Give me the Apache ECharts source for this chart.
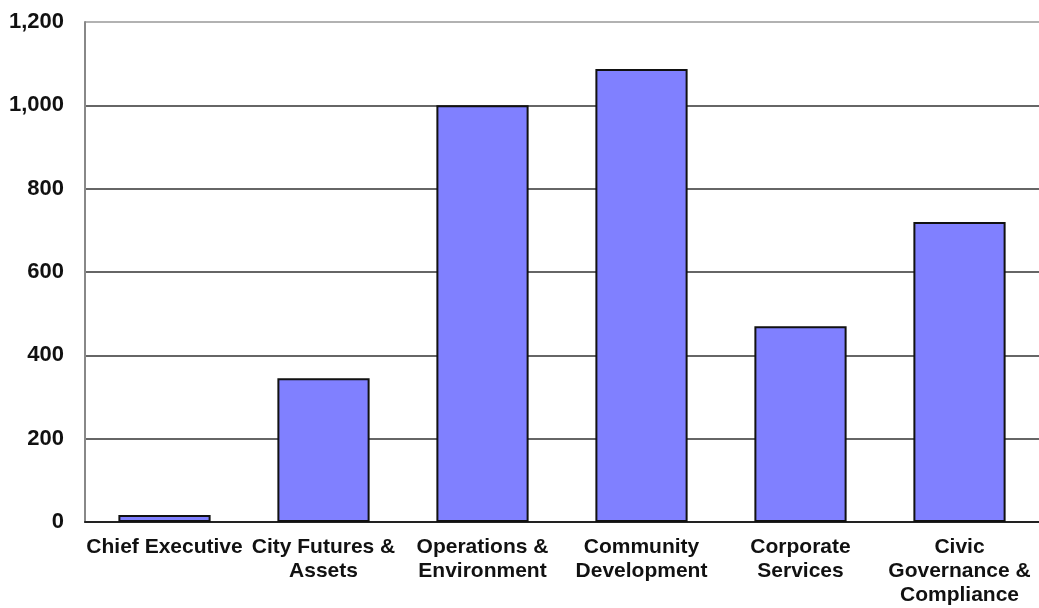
<!DOCTYPE html>
<html>
<head>
<meta charset="utf-8">
<script src="https://cdn.jsdelivr.net/npm/echarts@6/dist/echarts.min.js"></script>
<style>
  html, body { margin: 0; padding: 0; background: #ffffff; }
  #chart { width: 1039px; height: 608px; }
</style>
</head>
<body>
<div id="chart"></div>
<script>
// Department names (line breaks as shown under each bar)
const departments = [
  'Chief Executive',
  'City Futures &\nAssets',
  'Operations &\nEnvironment',
  'Community\nDevelopment',
  'Corporate\nServices',
  'Civic\nGovernance &\nCompliance'
];

// Value per department
const values = [17, 345, 1000, 1087, 470, 720];

// Value axis range
const yMin = 0;
const yMax = 1200;
const yStep = 200;

const chart = echarts.init(document.getElementById('chart'), null, { renderer: 'canvas' });

chart.setOption({
  animation: false,
  backgroundColor: '#ffffff',
  grid: { left: 85, right: 0, top: 22, bottom: 86, containLabel: false },
  xAxis: {
    type: 'category',
    data: departments,
    axisLine: { show: true, lineStyle: { color: '#222222', width: 2 } },
    axisTick: { show: false },
    axisLabel: {
      interval: 0,
      margin: 13,
      color: '#111111',
      fontFamily: 'Liberation Sans, Arial, sans-serif',
      fontWeight: 'bold',
      fontSize: 21,
      lineHeight: 24
    }
  },
  yAxis: {
    type: 'value',
    min: yMin,
    max: yMax,
    interval: yStep,
    axisLine: { show: true, lineStyle: { color: '#888888', width: 2 } },
    axisTick: { show: false },
    splitLine: {
      show: true,
      lineStyle: {
        color: ['#333333', '#333333', '#333333', '#333333', '#333333', '#333333', '#999999'],
        width: 1.5
      }
    },
    axisLabel: {
      margin: 21,
      color: '#111111',
      fontFamily: 'Liberation Sans, Arial, sans-serif',
      fontWeight: 'bold',
      fontSize: 22,
      formatter: function (v) { return v.toLocaleString('en-US'); }
    }
  },
  series: [{
    type: 'bar',
    data: values,
    barWidth: '58%',
    itemStyle: {
      color: '#8080ff',
      borderColor: '#111111',
      borderWidth: 2
    }
  }]
});
</script>
</body>
</html>
